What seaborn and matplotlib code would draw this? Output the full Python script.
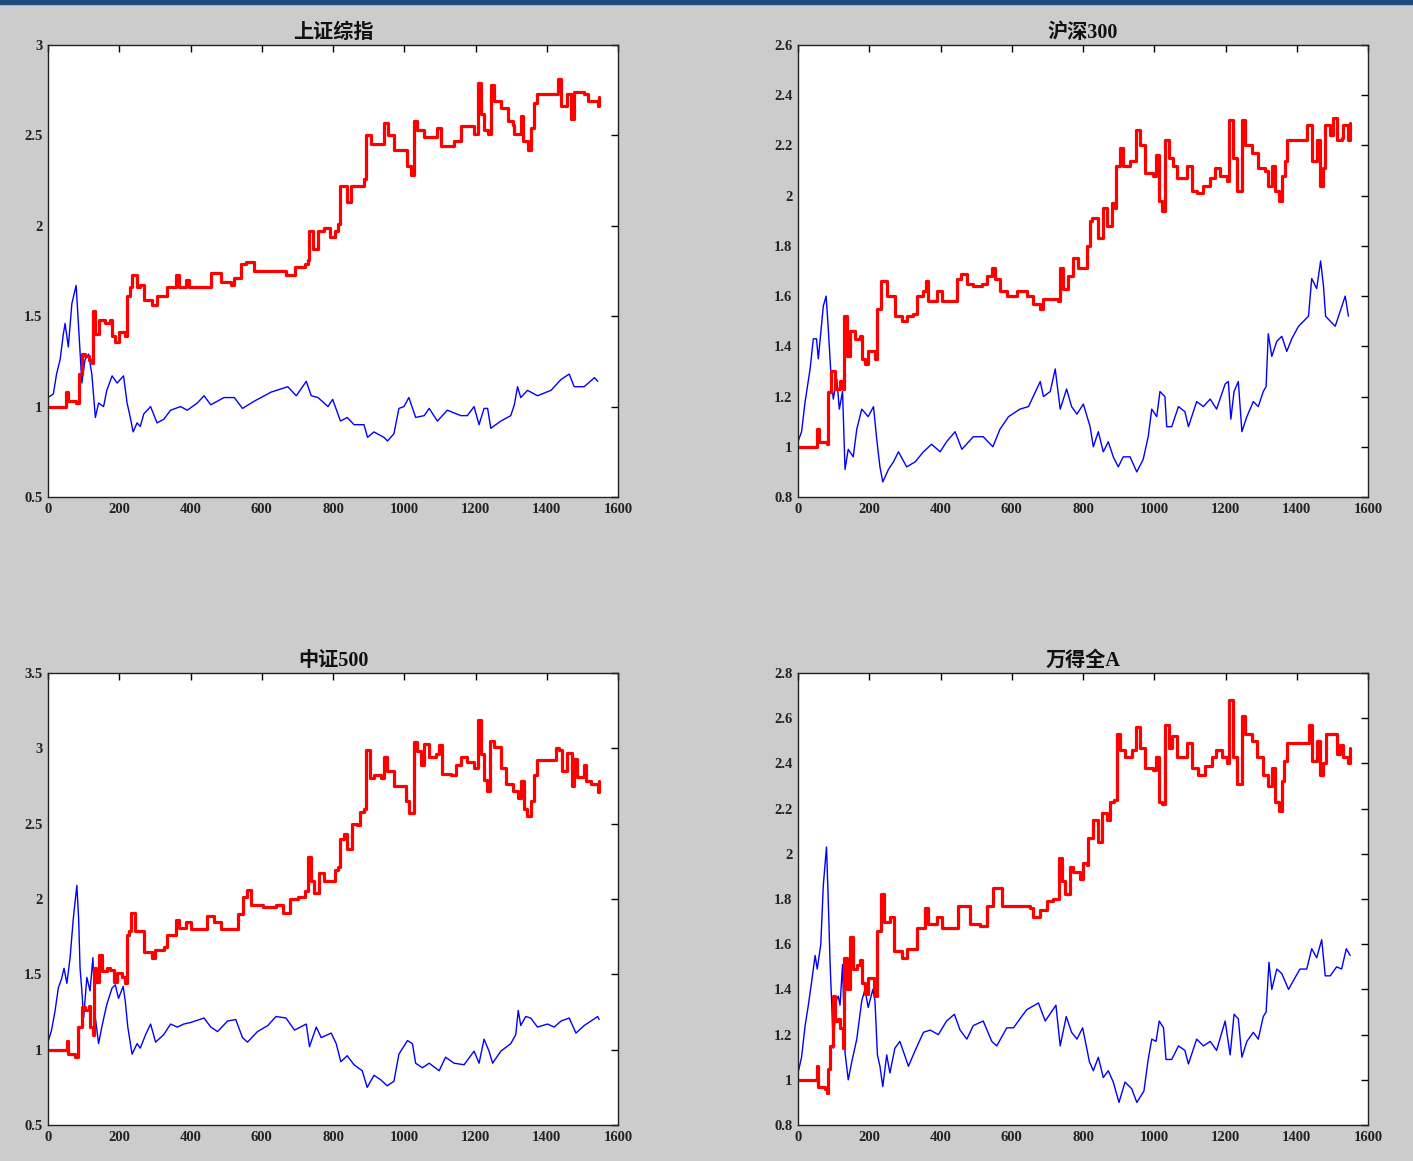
import numpy as np
import pandas as pd
import seaborn as sns
import matplotlib
matplotlib.use('Agg')
import matplotlib.pyplot as plt
from matplotlib.patches import Rectangle

# values, (day index, net value)
sh_red = [(0, 1.00), (48, 1.00), (51, 1.08), (57, 1.03), (79, 1.02), (86, 1.18), (95, 1.29), (104, 1.28), (114, 1.26),
          (123, 1.24), (126, 1.53), (133, 1.40), (142, 1.48), (161, 1.46), (175, 1.48), (180, 1.39), (189, 1.36), (198, 1.41),
          (217, 1.39), (222, 1.61), (231, 1.66), (236, 1.73), (250, 1.66), (259, 1.67), (269, 1.59), (292, 1.56), (306, 1.61),
          (325, 1.61), (335, 1.66), (358, 1.73), (368, 1.66), (386, 1.70), (396, 1.66), (438, 1.66), (457, 1.74), (485, 1.69),
          (513, 1.67), (523, 1.71), (541, 1.79), (556, 1.80), (579, 1.75), (654, 1.75), (668, 1.73), (692, 1.77), (720, 1.79),
          (729, 1.81), (734, 1.97), (744, 1.87), (758, 1.97), (776, 1.99), (791, 1.94), (805, 1.97), (814, 2.01), (819, 2.18),
          (821, 2.22), (840, 2.13), (850, 2.22), (878, 2.22), (887, 2.26), (892, 2.50), (906, 2.45), (934, 2.45), (943, 2.57),
          (953, 2.50), (967, 2.50), (971, 2.42), (1000, 2.42), (1009, 2.33), (1018, 2.28), (1027, 2.58), (1037, 2.53),
          (1046, 2.53), (1056, 2.49), (1084, 2.49), (1093, 2.54), (1103, 2.44), (1121, 2.44), (1140, 2.47), (1159, 2.55),
          (1177, 2.55), (1196, 2.51), (1207, 2.79), (1215, 2.62), (1224, 2.53), (1234, 2.51), (1243, 2.78), (1252, 2.69),
          (1271, 2.65), (1290, 2.58), (1304, 2.56), (1309, 2.51), (1327, 2.61), (1332, 2.47), (1346, 2.42), (1355, 2.54),
          (1365, 2.68), (1374, 2.73), (1421, 2.73), (1432, 2.81), (1440, 2.66), (1458, 2.73), (1468, 2.59), (1477, 2.74),
          (1505, 2.73), (1515, 2.69), (1534, 2.69), (1543, 2.66), (1548, 2.71)]
sh_blue = [(0, 1.05), (15, 1.07), (24, 1.18), (34, 1.26), (43, 1.40), (48, 1.46), (57, 1.33), (67, 1.57), (79, 1.67),
           (88, 1.37), (95, 1.13), (104, 1.26), (114, 1.29), (123, 1.18), (133, 0.94), (142, 1.02), (156, 1.00), (165, 1.09),
           (180, 1.17), (194, 1.13), (212, 1.17), (222, 1.02), (231, 0.94), (239, 0.86), (250, 0.91), (259, 0.89), (269, 0.96),
           (288, 1.00), (306, 0.91), (325, 0.93), (344, 0.98), (372, 1.00), (391, 0.98), (419, 1.02), (438, 1.06), (457, 1.01),
           (494, 1.05), (523, 1.05), (546, 0.99), (579, 1.03), (626, 1.08), (673, 1.11), (697, 1.06), (725, 1.14), (739, 1.06),
           (758, 1.05), (786, 1.00), (799, 1.04), (821, 0.92), (840, 0.94), (859, 0.90), (887, 0.90), (897, 0.83), (915, 0.86),
           (943, 0.83), (953, 0.81), (971, 0.85), (985, 0.99), (999, 1.00), (1013, 1.05), (1032, 0.94), (1056, 0.95),
           (1070, 0.99), (1093, 0.92), (1121, 0.98), (1159, 0.95), (1177, 0.95), (1196, 1.00), (1210, 0.90), (1224, 0.99),
           (1234, 0.99), (1243, 0.88), (1271, 0.92), (1299, 0.95), (1309, 1.01), (1318, 1.11), (1327, 1.05), (1346, 1.09),
           (1374, 1.06), (1412, 1.09), (1440, 1.15), (1463, 1.18), (1477, 1.11), (1505, 1.11), (1534, 1.16), (1543, 1.14)]

hs_red = [(0, 1.00), (48, 1.00), (52, 1.07), (60, 1.02), (80, 1.01), (85, 1.22), (94, 1.30), (104, 1.23), (118, 1.26),
          (125, 1.23), (129, 1.52), (137, 1.36), (146, 1.46), (160, 1.43), (174, 1.44), (179, 1.35), (188, 1.33), (197, 1.38),
          (216, 1.35), (223, 1.55), (232, 1.66), (249, 1.60), (263, 1.60), (272, 1.52), (291, 1.50), (305, 1.52), (324, 1.53),
          (333, 1.60), (352, 1.62), (359, 1.66), (366, 1.58), (389, 1.62), (403, 1.58), (436, 1.58), (446, 1.67), (457, 1.69),
          (474, 1.65), (492, 1.64), (516, 1.65), (530, 1.68), (544, 1.71), (553, 1.67), (567, 1.62), (586, 1.60), (614, 1.62),
          (642, 1.60), (661, 1.57), (678, 1.55), (689, 1.59), (717, 1.59), (731, 1.58), (736, 1.71), (745, 1.63), (759, 1.68),
          (773, 1.75), (787, 1.71), (806, 1.71), (811, 1.80), (820, 1.90), (824, 1.91), (843, 1.83), (857, 1.95), (866, 1.88),
          (880, 1.97), (890, 1.95), (893, 2.12), (904, 2.19), (913, 2.12), (932, 2.14), (949, 2.26), (960, 2.20), (974, 2.09),
          (997, 2.08), (1005, 2.16), (1012, 1.98), (1021, 1.94), (1030, 2.22), (1040, 2.15), (1054, 2.12), (1063, 2.07),
          (1082, 2.07), (1093, 2.12), (1105, 2.02), (1119, 2.01), (1138, 2.04), (1157, 2.07), (1171, 2.11), (1185, 2.08),
          (1203, 2.06), (1211, 2.30), (1220, 2.15), (1231, 2.02), (1246, 2.30), (1255, 2.20), (1274, 2.17), (1292, 2.11),
          (1311, 2.10), (1320, 2.04), (1330, 2.12), (1339, 2.02), (1349, 1.98), (1358, 2.08), (1367, 2.14), (1372, 2.22),
          (1419, 2.22), (1430, 2.28), (1442, 2.14), (1456, 2.22), (1466, 2.04), (1475, 2.11), (1480, 2.28), (1492, 2.24),
          (1503, 2.31), (1512, 2.22), (1526, 2.23), (1531, 2.28), (1545, 2.22), (1550, 2.29)]
hs_blue = [(0, 1.02), (10, 1.06), (20, 1.18), (34, 1.31), (43, 1.43), (52, 1.43), (57, 1.35), (71, 1.56), (79, 1.60),
           (85, 1.47), (92, 1.30), (99, 1.19), (109, 1.27), (116, 1.15), (125, 1.22), (132, 0.91), (141, 0.99), (155, 0.96),
           (165, 1.07), (179, 1.15), (197, 1.12), (212, 1.16), (221, 1.03), (230, 0.92), (238, 0.86), (254, 0.91), (268, 0.94),
           (282, 0.98), (305, 0.92), (329, 0.94), (352, 0.98), (375, 1.01), (399, 0.98), (417, 1.02), (441, 1.06), (460, 0.99),
           (492, 1.04), (520, 1.04), (547, 1.00), (567, 1.07), (591, 1.12), (623, 1.15), (647, 1.16), (680, 1.26), (689, 1.20),
           (708, 1.22), (722, 1.31), (736, 1.15), (754, 1.23), (768, 1.16), (783, 1.13), (801, 1.17), (820, 1.08), (829, 1.00),
           (843, 1.06), (857, 0.98), (871, 1.02), (885, 0.96), (899, 0.92), (913, 0.96), (932, 0.96), (951, 0.90), (969, 0.95),
           (983, 1.04), (993, 1.15), (1007, 1.12), (1016, 1.22), (1030, 1.20), (1035, 1.08), (1049, 1.08), (1068, 1.16),
           (1086, 1.14), (1096, 1.08), (1119, 1.18), (1138, 1.16), (1157, 1.19), (1175, 1.15), (1199, 1.25), (1208, 1.26),
           (1215, 1.11), (1224, 1.22), (1236, 1.26), (1246, 1.06), (1260, 1.12), (1278, 1.18), (1292, 1.16), (1306, 1.22),
           (1314, 1.24), (1320, 1.45), (1330, 1.36), (1344, 1.42), (1358, 1.44), (1372, 1.38), (1386, 1.43), (1405, 1.48),
           (1419, 1.50), (1433, 1.52), (1442, 1.67), (1456, 1.63), (1467, 1.74), (1475, 1.64), (1481, 1.52), (1494, 1.50),
           (1508, 1.48), (1522, 1.54), (1536, 1.60), (1545, 1.52)]

zz_red = [(0, 1.00), (51, 1.00), (53, 1.06), (57, 0.97), (76, 0.95), (85, 1.15), (95, 1.28), (104, 1.26), (114, 1.29),
          (118, 1.15), (126, 1.10), (130, 1.54), (135, 1.45), (142, 1.63), (152, 1.52), (165, 1.54), (175, 1.53), (184, 1.45),
          (194, 1.51), (208, 1.48), (217, 1.44), (222, 1.76), (227, 1.79), (233, 1.91), (243, 1.79), (259, 1.79), (269, 1.65),
          (292, 1.61), (301, 1.66), (325, 1.68), (335, 1.76), (358, 1.86), (368, 1.81), (386, 1.85), (400, 1.80), (438, 1.80),
          (447, 1.89), (466, 1.85), (485, 1.80), (518, 1.80), (532, 1.90), (546, 2.01), (558, 2.06), (570, 1.96), (603, 1.95),
          (640, 1.96), (659, 1.91), (678, 2.00), (701, 2.01), (720, 2.05), (729, 2.28), (737, 2.12), (748, 2.04), (762, 2.17),
          (776, 2.12), (795, 2.12), (805, 2.19), (814, 2.21), (819, 2.40), (831, 2.43), (840, 2.33), (854, 2.50), (868, 2.49),
          (877, 2.58), (887, 2.60), (894, 2.99), (904, 2.80), (915, 2.82), (934, 2.80), (943, 2.94), (952, 2.85), (966, 2.85),
          (971, 2.75), (995, 2.75), (1004, 2.65), (1013, 2.57), (1027, 3.04), (1037, 2.98), (1046, 2.89), (1055, 3.03),
          (1070, 2.94), (1088, 2.96), (1098, 3.02), (1107, 2.83), (1130, 2.82), (1144, 2.89), (1159, 2.94), (1177, 2.91),
          (1196, 2.87), (1207, 3.19), (1215, 2.96), (1224, 2.79), (1233, 2.72), (1241, 3.05), (1252, 3.01), (1271, 2.87),
          (1285, 2.76), (1304, 2.72), (1318, 2.67), (1327, 2.78), (1337, 2.60), (1344, 2.55), (1355, 2.65), (1365, 2.82),
          (1374, 2.92), (1416, 2.92), (1426, 3.00), (1435, 2.99), (1444, 2.85), (1458, 2.97), (1470, 2.75), (1477, 2.93),
          (1486, 2.81), (1505, 2.89), (1510, 2.78), (1524, 2.76), (1538, 2.76), (1543, 2.71), (1547, 2.78)]
zz_blue = [(0, 1.05), (10, 1.13), (20, 1.26), (29, 1.41), (38, 1.47), (45, 1.54), (53, 1.44), (62, 1.61), (71, 1.87),
           (81, 2.09), (86, 1.87), (90, 1.54), (95, 1.39), (100, 1.21), (109, 1.48), (118, 1.39), (126, 1.61), (133, 1.21),
           (142, 1.04), (151, 1.15), (165, 1.30), (180, 1.41), (189, 1.43), (198, 1.34), (211, 1.42), (217, 1.32), (224, 1.15),
           (236, 0.97), (250, 1.04), (259, 1.01), (274, 1.10), (288, 1.17), (302, 1.05), (325, 1.10), (344, 1.17), (363, 1.15),
           (381, 1.17), (400, 1.18), (438, 1.21), (457, 1.15), (476, 1.12), (504, 1.19), (527, 1.20), (546, 1.08), (560, 1.05),
           (588, 1.12), (617, 1.16), (640, 1.22), (668, 1.21), (692, 1.13), (725, 1.17), (734, 1.02), (753, 1.15), (767, 1.08),
           (795, 1.11), (809, 1.04), (822, 0.92), (840, 0.96), (859, 0.90), (882, 0.86), (896, 0.75), (915, 0.83), (934, 0.80),
           (952, 0.76), (971, 0.79), (985, 0.97), (1009, 1.06), (1023, 1.04), (1032, 0.91), (1051, 0.88), (1070, 0.91),
           (1098, 0.86), (1116, 0.95), (1140, 0.91), (1168, 0.90), (1196, 0.99), (1210, 0.91), (1224, 1.07), (1238, 0.99),
           (1248, 0.91), (1271, 0.99), (1299, 1.04), (1313, 1.10), (1320, 1.26), (1327, 1.16), (1341, 1.22), (1355, 1.21),
           (1374, 1.15), (1402, 1.17), (1421, 1.15), (1440, 1.19), (1463, 1.21), (1482, 1.11), (1505, 1.16), (1524, 1.19),
           (1543, 1.22), (1547, 1.20)]

wd_red = [(0, 1.00), (51, 1.00), (52, 1.06), (57, 0.97), (76, 0.96), (80, 0.94), (85, 1.05), (90, 1.15), (97, 1.37),
          (104, 1.26), (113, 1.27), (118, 1.23), (125, 1.14), (129, 1.54), (137, 1.40), (146, 1.63), (155, 1.49), (165, 1.51),
          (174, 1.53), (179, 1.43), (188, 1.38), (197, 1.45), (212, 1.40), (216, 1.37), (223, 1.66), (232, 1.82), (242, 1.70),
          (258, 1.72), (270, 1.57), (291, 1.54), (305, 1.58), (324, 1.58), (333, 1.67), (357, 1.76), (366, 1.69), (389, 1.72),
          (403, 1.67), (436, 1.67), (450, 1.77), (460, 1.77), (483, 1.69), (511, 1.68), (530, 1.77), (547, 1.85), (556, 1.85),
          (572, 1.77), (614, 1.77), (651, 1.76), (661, 1.72), (680, 1.75), (698, 1.79), (717, 1.80), (726, 1.80), (734, 1.98),
          (740, 1.88), (750, 1.82), (764, 1.94), (773, 1.92), (792, 1.89), (801, 1.96), (811, 1.95), (815, 2.07), (827, 2.15),
          (843, 2.05), (852, 2.18), (866, 2.15), (876, 2.23), (887, 2.24), (895, 2.53), (904, 2.46), (918, 2.43), (937, 2.46),
          (949, 2.56), (960, 2.47), (974, 2.38), (997, 2.37), (1005, 2.43), (1012, 2.23), (1021, 2.22), (1030, 2.57),
          (1040, 2.47), (1049, 2.52), (1063, 2.43), (1082, 2.43), (1093, 2.49), (1105, 2.38), (1124, 2.35), (1143, 2.39),
          (1161, 2.43), (1173, 2.46), (1189, 2.43), (1203, 2.40), (1211, 2.68), (1220, 2.43), (1231, 2.31), (1246, 2.61),
          (1255, 2.53), (1274, 2.50), (1288, 2.43), (1306, 2.35), (1320, 2.30), (1330, 2.38), (1339, 2.23), (1349, 2.19),
          (1358, 2.32), (1364, 2.41), (1372, 2.49), (1419, 2.49), (1433, 2.57), (1442, 2.41), (1456, 2.50), (1464, 2.35),
          (1475, 2.40), (1482, 2.53), (1503, 2.53), (1512, 2.44), (1522, 2.48), (1531, 2.43), (1545, 2.40), (1550, 2.47)]
wd_blue = [(0, 1.03), (10, 1.10), (20, 1.24), (29, 1.33), (38, 1.43), (48, 1.55), (54, 1.49), (64, 1.60), (71, 1.86),
           (80, 2.03), (85, 1.79), (90, 1.52), (95, 1.32), (99, 1.14), (107, 1.35), (113, 1.37), (118, 1.33), (125, 1.51),
           (132, 1.12), (141, 1.00), (151, 1.08), (165, 1.18), (179, 1.35), (188, 1.40), (197, 1.32), (210, 1.40), (216, 1.35),
           (223, 1.11), (230, 1.06), (238, 0.97), (249, 1.11), (258, 1.03), (272, 1.14), (286, 1.17), (310, 1.06), (329, 1.13),
           (352, 1.21), (371, 1.22), (394, 1.20), (417, 1.26), (439, 1.29), (455, 1.22), (474, 1.18), (492, 1.24), (520, 1.26),
           (544, 1.17), (558, 1.15), (586, 1.23), (605, 1.23), (623, 1.27), (642, 1.31), (675, 1.34), (694, 1.26), (724, 1.33),
           (736, 1.15), (753, 1.28), (768, 1.21), (783, 1.18), (799, 1.23), (818, 1.08), (829, 1.04), (843, 1.10), (857, 1.01),
           (871, 1.04), (885, 0.99), (901, 0.90), (918, 0.99), (937, 0.96), (951, 0.90), (971, 0.95), (983, 1.09), (993, 1.18),
           (1005, 1.17), (1014, 1.26), (1026, 1.23), (1033, 1.09), (1049, 1.09), (1068, 1.15), (1086, 1.13), (1096, 1.07),
           (1119, 1.18), (1138, 1.15), (1157, 1.17), (1175, 1.13), (1199, 1.26), (1213, 1.11), (1224, 1.29), (1236, 1.27),
           (1246, 1.10), (1260, 1.17), (1278, 1.21), (1292, 1.18), (1306, 1.28), (1314, 1.30), (1322, 1.52), (1330, 1.40),
           (1344, 1.49), (1358, 1.47), (1377, 1.40), (1391, 1.44), (1409, 1.49), (1428, 1.49), (1442, 1.58), (1456, 1.54),
           (1470, 1.62), (1480, 1.46), (1494, 1.46), (1512, 1.50), (1526, 1.49), (1539, 1.58), (1550, 1.55)]

titles = ['上证综指', '沪深300', '中证500', '万得全A']
ylims = [(0.5, 3.0), (0.8, 2.6), (0.5, 3.5), (0.8, 2.8)]
ysteps = [0.5, 0.2, 0.5, 0.2]
reds = [sh_red, hs_red, zz_red, wd_red]
blues = [sh_blue, hs_blue, zz_blue, wd_blue]

sns.set_theme(style='white')
plt.rcParams['font.family'] = ['Liberation Serif', 'Noto Sans CJK SC']

W, H = 1413, 1161
fig = plt.figure(figsize=(W / 100, H / 100), dpi=100, facecolor='#cccccc')
fig.add_artist(Rectangle((0, 1 - 4 / H), 1, 4 / H, transform=fig.transFigure, color='#1d4b7d', zorder=5))

# axes boxes in pixels: left, top
boxes = [(48, 45), (798, 45), (48, 673), (798, 673)]
aw, ah = 570, 452

for i in range(4):
    l, t = boxes[i]
    ax = fig.add_axes([l / W, 1 - (t + ah) / H, aw / W, ah / H])
    ax.set_facecolor('white')

    red = pd.DataFrame(reds[i], columns=['day', 'nav'])
    blue = pd.DataFrame(blues[i], columns=['day', 'nav'])
    sns.lineplot(data=blue, x='day', y='nav', ax=ax, color='#0000ff', linewidth=1.0, estimator=None)
    sns.lineplot(data=red, x='day', y='nav', ax=ax, color='#ff0000', linewidth=2.3, estimator=None,
                 drawstyle='steps-post')

    lo, hi = ylims[i]
    ax.set_xlim(0, 1600)
    ax.set_ylim(lo, hi)
    ax.set_xticks(np.arange(0, 1601, 200))
    yt = np.round(np.arange(lo, hi + 1e-9, ysteps[i]), 2)
    ax.set_yticks(yt)
    ax.set_yticklabels(['%g' % v for v in yt])
    ax.set_xlabel('')
    ax.set_ylabel('')
    ax.tick_params(direction='in', length=5, width=1, top=True, right=True, colors='black',
                   labelsize=10.5, pad=4)
    for lab in ax.get_xticklabels() + ax.get_yticklabels():
        lab.set_fontweight('bold')
        lab.set_color('#222222')
    for s in ax.spines.values():
        s.set_color('#222222')
        s.set_linewidth(1.0)
    ax.set_title(titles[i], fontsize=14.5, fontweight='bold', pad=5, color='#111111')

fig.savefig('out.png', dpi=100, facecolor=fig.get_facecolor())
